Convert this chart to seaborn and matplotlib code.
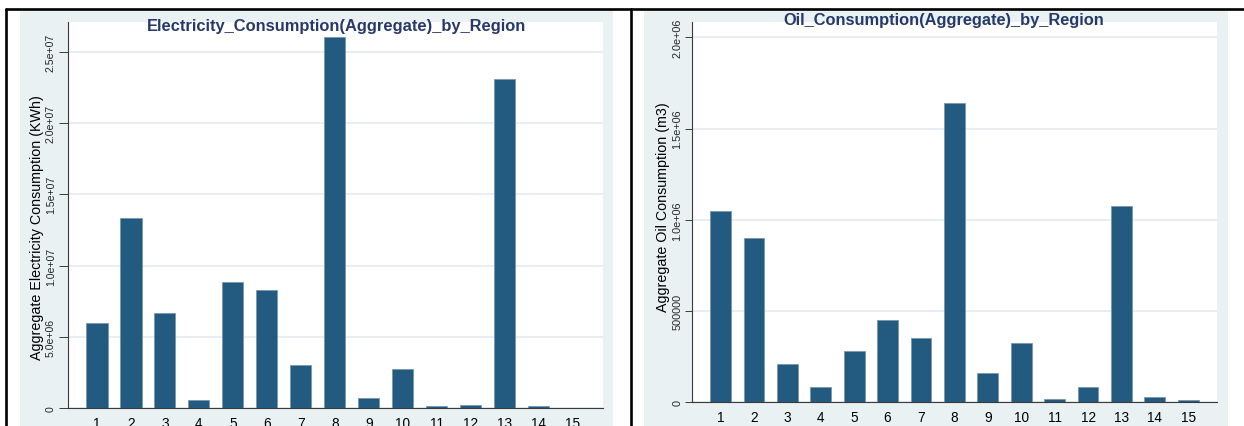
import matplotlib
matplotlib.use("Agg")
import matplotlib.pyplot as plt
from matplotlib.patches import Rectangle
from matplotlib.lines import Line2D
import seaborn as sns
import pandas as pd

# ---------------- data ----------------
regions = [str(i) for i in range(1, 16)]
electricity = [6.00e6, 13.34e6, 6.70e6, 0.58e6, 8.88e6, 8.32e6, 3.01e6, 26.06e6,
               0.75e6, 2.78e6, 0.18e6, 0.25e6, 23.09e6, 0.14e6, 0.05e6]
oil = [1.049e6, 0.898e6, 0.208e6, 0.084e6, 0.279e6, 0.451e6, 0.352e6, 1.640e6,
       0.159e6, 0.326e6, 0.020e6, 0.084e6, 1.073e6, 0.029e6, 0.013e6]

elec_ticks = [0, 5e6, 10e6, 15e6, 20e6, 25e6]
elec_tick_labels = ["0", "5.0e+06", "1.0e+07", "1.5e+07", "2.0e+07", "2.5e+07"]
oil_ticks = [0, 5e5, 10e5, 15e5, 20e5]
oil_tick_labels = ["0", "500000", "1.0e+06", "1.5e+06", "2.0e+06"]

elec_title = "Electricity_Consumption(Aggregate)_by_Region"
oil_title = "Oil_Consumption(Aggregate)_by_Region"
elec_ylabel = "Aggregate Electricity Consumption (KWh)"
oil_ylabel = "Aggregate Oil Consumption (m3)"

# ---------------- style ----------------
sns.set_style("ticks")
plt.rcParams["font.family"] = ["Liberation Sans", "DejaVu Sans"]

W, H = 1244, 427
BG = "#E9F1F3"
BAR = "#235A7F"
EDGE = "#7896AF"
TITLE_C = "#27396A"
AXC = "#3a3a3a"

fig = plt.figure(figsize=(W / 100, H / 100), dpi=100)
fig.patch.set_facecolor("white")


def fx(x):
    return x / W


def fy(y):
    return 1 - y / H


# graph-region backgrounds (drawn beneath the axes)
fig.patches.append(Rectangle((fx(20), fy(H)), fx(612.7 - 20), (H - 10) / H,
                             transform=fig.transFigure, facecolor=BG, edgecolor="none", zorder=-10))
fig.patches.append(Rectangle((fx(643.5), fy(H)), fx(1228 - 643.5), (H - 10) / H,
                             transform=fig.transFigure, facecolor=BG, edgecolor="none", zorder=-10))

# table frame lines
for (x0, y0, x1, y1) in [(6, 10, 1244, 10), (6, 10, 6, H), (630.5, 10, 630.5, H)]:
    fig.lines.append(Line2D([fx(x0), fx(x1)], [fy(y0), fy(y1)], transform=fig.transFigure,
                            color="black", lw=1.9, zorder=5))


def make_panel(x0, x1, ytop, ybot, values, ticks, ticklabels, ymax, xlim,
               ticklen, tickpad, ticksize):
    ax = fig.add_axes([fx(x0), fy(ybot), fx(x1 - x0), (ybot - ytop) / H])
    ax.set_zorder(2)
    df = pd.DataFrame({"region": regions, "value": values})
    sns.barplot(data=df, x="region", y="value", order=regions, color=BAR,
                width=0.62, saturation=1, edgecolor=EDGE, linewidth=0.6, ax=ax, zorder=3)
    ax.set_facecolor("white")
    ax.set_xlim(*xlim)
    ax.set_ylim(0, ymax)
    ax.set_yticks(ticks)
    ax.set_yticklabels(ticklabels, rotation=90, va="center", fontsize=ticksize)
    ax.tick_params(axis="y", length=ticklen, width=0.7, color=AXC, pad=tickpad)
    ax.tick_params(axis="x", length=0, pad=5.8, labelsize=9.8, colors="black")
    ax.yaxis.grid(True, color="#E4EDF0", lw=1.3, zorder=0)
    ax.xaxis.grid(False)
    ax.set_axisbelow(True)
    for s in ["top", "right"]:
        ax.spines[s].set_visible(False)
    for s in ["left", "bottom"]:
        ax.spines[s].set_color(AXC)
        ax.spines[s].set_linewidth(0.8)
    ax.set_xlabel("")
    ax.set_ylabel("")
    return ax


ax1 = make_panel(68.3, 603, 22.7, 409.3, electricity, elec_ticks, elec_tick_labels,
                 27.10e6, (-0.844, 14.89), ticklen=6.8, tickpad=2.2, ticksize=7.6)
ax2 = make_panel(691.7, 1217, 23.3, 403.3, oil, oil_ticks, oil_tick_labels,
                 2.082e6, (-0.862, 14.86), ticklen=5.0, tickpad=1.6, ticksize=7.8)

# titles
fig.text(fx(336), fy(31), elec_title, ha="center", va="baseline", fontsize=11.9,
         fontweight="bold", color=TITLE_C, zorder=6)
fig.text(fx(943.5), fy(25), oil_title, ha="center", va="baseline", fontsize=11.8,
         fontweight="bold", color=TITLE_C, zorder=6)

# y-axis titles
fig.text(fx(36.7), fy(228), elec_ylabel, rotation=90, ha="center", va="center",
         fontsize=10.3, color="black")
fig.text(fx(663), fy(207), oil_ylabel, rotation=90, ha="center", va="center",
         fontsize=10.3, color="black")

fig.savefig("out.png", dpi=100, facecolor="white")
